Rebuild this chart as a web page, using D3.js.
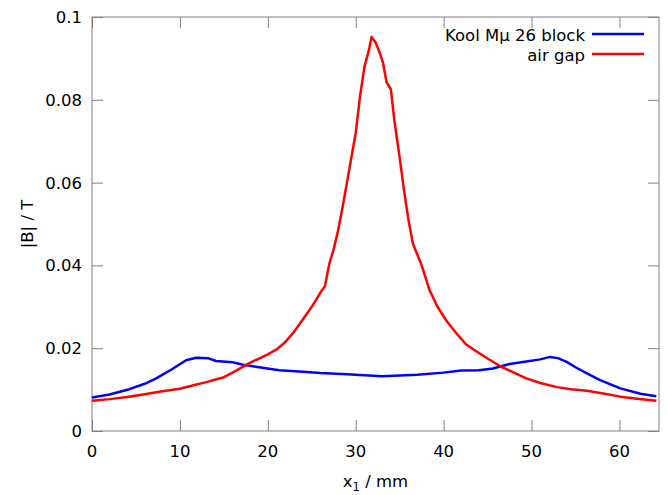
<!DOCTYPE html>
<html>
<head>
<meta charset="utf-8">
<script src="https://cdn.jsdelivr.net/npm/d3@7"></script>
<style>
  html, body { margin: 0; padding: 0; background: #fff; overflow: hidden; }
  svg { display: block; width: 100vw; height: 100vh; }
  text { font-family: "DejaVu Sans", Verdana, sans-serif; font-size: 16.5px; fill: #000; }
</style>
</head>
<body>
<div id="chart"></div>
<script>
// values (x1 in mm, |B| in T)
const blockX = [0, 2, 4.25, 6, 7.3, 9, 10.7, 11.85, 13.2, 14.1, 16, 17.2, 19, 21.3, 24, 26, 29, 33, 37, 40, 42, 44, 45.6, 47.5, 49.4, 51, 52.1, 53, 54, 55, 56.3, 57.8, 60.1, 62.4, 64.2];
const blockB = [0.0081, 0.0088, 0.0101, 0.0114, 0.0127, 0.0148, 0.0171, 0.0177, 0.0176, 0.0169, 0.0166, 0.016, 0.0154, 0.0147, 0.0143, 0.014, 0.0137, 0.0132, 0.0136, 0.0141, 0.0146, 0.0147, 0.0151, 0.0162, 0.0168, 0.0173, 0.0179, 0.0176, 0.0167, 0.0154, 0.0139, 0.0123, 0.0103, 0.009, 0.0084];

const gapX = [0, 2, 4, 6, 8, 10, 11.1, 13, 15, 16, 17, 18, 19, 20, 21, 22, 23, 24, 25, 26, 26.5, 27, 27.5, 28, 28.5, 29, 29.5, 30, 30.5, 31, 31.5, 31.8, 32.3, 32.7, 33.1, 33.5, 34, 34.4, 35, 35.5, 36, 36.5, 37.5, 38.4, 39.3, 40.3, 41.5, 42.5, 43.4, 45, 46.4, 48, 49.4, 51, 52.9, 54.5, 56.3, 58, 60.1, 62, 64.2];
const gapB = [0.0073, 0.0077, 0.0082, 0.0089, 0.0096, 0.0102, 0.0108, 0.0118, 0.013, 0.0141, 0.0153, 0.0165, 0.0175, 0.0185, 0.0197, 0.0215, 0.024, 0.027, 0.030, 0.0335, 0.035, 0.0404, 0.044, 0.0485, 0.054, 0.060, 0.066, 0.072, 0.081, 0.088, 0.092, 0.0952, 0.0937, 0.0915, 0.089, 0.0843, 0.0825, 0.075, 0.066, 0.058, 0.051, 0.0453, 0.040, 0.034, 0.030, 0.0267, 0.0235, 0.021, 0.0197, 0.0175, 0.0157, 0.0141, 0.0127, 0.0116, 0.0106, 0.0101, 0.0097, 0.0091, 0.0083, 0.0078, 0.0073];

const xTicks = [0, 10, 20, 30, 40, 50, 60];
const yTicks = [0, 0.02, 0.04, 0.06, 0.08, 0.1];
const yTickLabels = ["0", "0.02", "0.04", "0.06", "0.08", "0.1"];
const seriesNames = ["Kool Mμ 26 block", "air gap"];
const seriesColors = ["#0000ff", "#ff0000"];

const width = 668, height = 495;
const margin = {top: 17, right: 9, bottom: 64, left: 92};
const innerWidth = width - margin.left - margin.right;
const innerHeight = height - margin.top - margin.bottom;

// viewBox so the drawing always fits the window
const svg = d3.select("#chart").append("svg")
    .attr("viewBox", `0 0 ${width} ${height}`)
    .attr("preserveAspectRatio", "xMidYMid meet");

const g = svg.append("g")
    .attr("transform", `translate(${margin.left},${margin.top})`);

const xScale = d3.scaleLinear().domain([0, 64.5]).range([0, innerWidth]);
const yScale = d3.scaleLinear().domain([0, 0.1]).range([innerHeight, 0]);

const axisColor = "#808080";
const tickLen = 11;

// tick marks pointing inwards, on all four sides (labels drawn below)
const axBottom = g.append("g").attr("transform", `translate(0,${innerHeight})`)
    .call(d3.axisBottom(xScale).tickValues(xTicks).tickSizeInner(-tickLen).tickSizeOuter(0));
const axTop = g.append("g")
    .call(d3.axisTop(xScale).tickValues(xTicks).tickSizeInner(-tickLen).tickSizeOuter(0));
const axLeft = g.append("g")
    .call(d3.axisLeft(yScale).tickValues(yTicks).tickSizeInner(-tickLen).tickSizeOuter(0));
const axRight = g.append("g").attr("transform", `translate(${innerWidth},0)`)
    .call(d3.axisRight(yScale).tickValues(yTicks).tickSizeInner(-tickLen).tickSizeOuter(0));

[axBottom, axTop, axLeft, axRight].forEach(a => {
  a.select(".domain").remove();
  a.selectAll("text").remove();
  a.selectAll("line").attr("stroke", axisColor);
});

// tick labels
g.selectAll(".xlab")
    .data(xTicks)
    .join("text")
    .attr("class", "xlab")
    .attr("x", d => xScale(d))
    .attr("y", innerHeight + 26)
    .attr("text-anchor", "middle")
    .text(d => d);

g.selectAll(".ylab")
    .data(yTicks)
    .join("text")
    .attr("class", "ylab")
    .attr("x", -10)
    .attr("y", d => yScale(d) + 6)
    .attr("text-anchor", "end")
    .text((d, i) => yTickLabels[i]);

// plot frame
g.append("rect")
    .attr("width", innerWidth)
    .attr("height", innerHeight)
    .attr("fill", "none")
    .attr("stroke", axisColor)
    .attr("stroke-width", 1);

// curves
const line = d3.line()
    .x(d => xScale(d[0]))
    .y(d => yScale(d[1]));

const series = [d3.zip(blockX, blockB), d3.zip(gapX, gapB)];
series.forEach((s, i) => {
  g.append("path")
      .attr("d", line(s))
      .attr("fill", "none")
      .attr("stroke", seriesColors[i])
      .attr("stroke-width", 2.5)
      .attr("stroke-linejoin", "round");
});

// legend
seriesNames.forEach((name, i) => {
  const y = 34 + i * 20;
  svg.append("text")
      .attr("x", 585)
      .attr("y", y + 7)
      .attr("text-anchor", "end")
      .text(name);
  svg.append("line")
      .attr("x1", 592).attr("x2", 644)
      .attr("y1", y).attr("y2", y)
      .attr("stroke", seriesColors[i])
      .attr("stroke-width", 2.5);
});

// axis labels
svg.append("text")
    .attr("transform", `translate(33,${margin.top + innerHeight / 2}) rotate(-90)`)
    .attr("text-anchor", "middle")
    .text("|B| / T");

const xl = svg.append("text")
    .attr("x", margin.left + innerWidth / 2)
    .attr("y", 487)
    .attr("text-anchor", "middle");
xl.append("tspan").text("x");
xl.append("tspan").attr("dy", 4).attr("font-size", 11.5).text("1");
xl.append("tspan").attr("dy", -4).text(" / mm");
</script>
</body>
</html>
